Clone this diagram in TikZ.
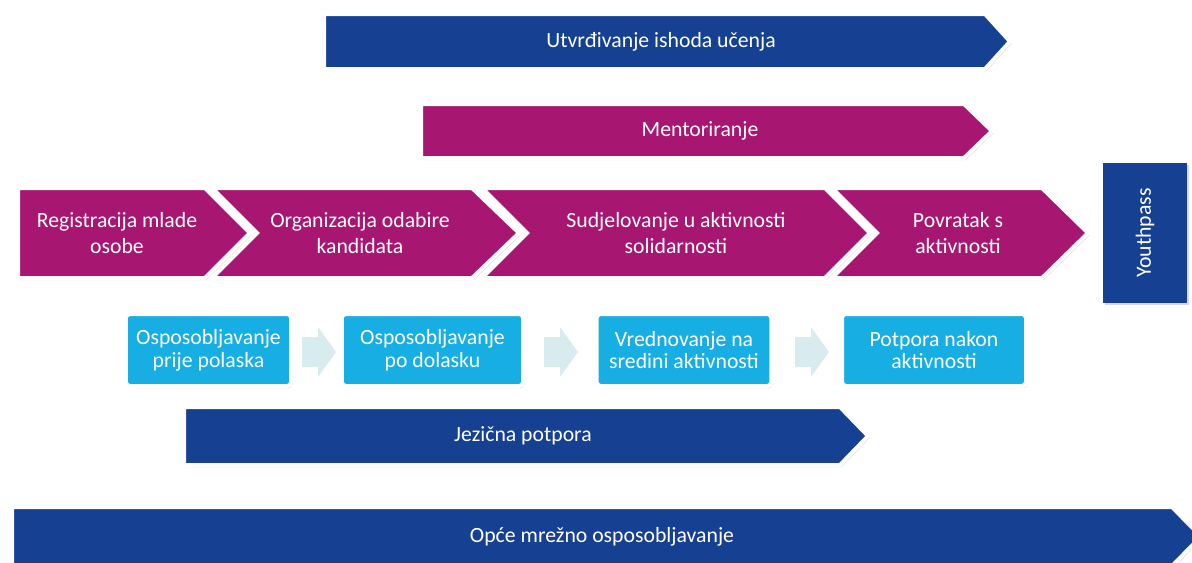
\documentclass[tikz,border=0pt]{standalone}
\usepackage{fontspec}
\setmainfont{Carlito}
\usepackage{tikz}
\usetikzlibrary{shadows, positioning}
\definecolor{barblue}{RGB}{22,64,145}
\definecolor{barpink}{RGB}{167,23,113}
\definecolor{boxcyan}{RGB}{23,174,228}
\definecolor{arrowpale}{RGB}{216,236,240}
\tikzset{
	bar/.style={
		draw=white, 
		line width=3pt, 
		line join=miter, 
		drop shadow={opacity=0.3, shadow xshift=1.2pt, shadow yshift=-1.5pt}
	},
	bluebar/.style={bar, fill=barblue},
	pinkbar/.style={bar, fill=barpink},
	bartext/.style={
		text=white, 
		align=center, 
		font=\fontsize{16.3}{19}\selectfont
	},
	stepbox/.style={
		rectangle, 
		rounded corners=3pt, 
		minimum height=54pt, 
		draw=white, 
		line width=3pt, 
		fill=boxcyan, 
		text=white, 
		align=center, 
		font=\fontsize{16.3}{17}\selectfont,
		drop shadow={opacity=0.3, shadow xshift=1.2pt, shadow yshift=-1.5pt}
	},
	flowarrow/.style={fill=arrowpale, draw=none}
}

\begin{document}
\begin{tikzpicture}[x=0.75pt, y=-0.75pt]
	\useasboundingbox (0,0) rectangle (1192,562);
	\clip (0,0) rectangle (1192,562);
	
	% Bars on top
	\draw [bluebar] (324,14) -- (985,14) -- (1010,41.5) -- (985,69) -- (324,69) -- cycle;
	\node (ishodi) [bartext] at (661,41.5) {Utvrđivanje ishoda učenja};
	\draw [pinkbar] (421,104) -- (964,104) -- (992,131) -- (964,158) -- (421,158) -- cycle;
	\node (mentoriranje) [bartext] at (700,131) {Mentoriranje};
	
	% Main chevrons
	\draw [pinkbar] (18,188) -- (205,188) -- (250,233) -- (205,278) -- (18,278) -- cycle;
	\draw [pinkbar] (212,188) -- (472,188) -- (519,233) -- (472,278) -- (212,278) -- (257,233) -- cycle;
	\draw [pinkbar] (482,188) -- (825,188) -- (870,233) -- (825,278) -- (482,278) -- (527,233) -- cycle;
	\draw [pinkbar] (832,188) -- (1042,188) -- (1088,233) -- (1042,278) -- (832,278) -- (877,233) -- cycle;
	\node (registracija) [bartext] at (117,233) {Registracija mlade\\osobe};
	\node (odabir) [bartext] at (360,233) {Organizacija odabire\\kandidata};
	\node (sudjelovanje) [bartext] at (676,233) {Sudjelovanje u aktivnosti\\solidarnosti};
	\node (povratak) [bartext] at (958,233) {Povratak s\\aktivnosti};
	
	\node (youthpass) [bartext, rectangle, fill=barblue, rotate=90, minimum width=105pt, minimum height=63pt,
		drop shadow={opacity=0.3, shadow xshift=1.2pt, shadow yshift=-1.5pt}] at (1145,233) {Youthpass};
	
	% Support steps
	\node (prije) [stepbox, minimum width=124pt] at (208.5,350) {Osposobljavanje\\prije polaska};
	\node (dolazak) [stepbox, minimum width=136pt] at (432.5,350) {Osposobljavanje\\po dolasku};
	\node (sredina) [stepbox, minimum width=131pt] at (684,350) {Vrednovanje na\\sredini aktivnosti};
	\node (nakon) [stepbox, minimum width=138pt] at (934,350) {Potpora nakon\\aktivnosti};
	\foreach \ax in {318, 560, 811}
		\draw [flowarrow, shift={(\ax,352)}] (-16,-15) -- (0,-15) -- (0,-25) -- (18,0) -- (0,25) -- (0,15) -- (-16,15) -- cycle;
	
	% Bottom bars
	\draw [bluebar] (184,407) -- (840,407) -- (868,436) -- (840,465) -- (184,465) -- cycle;
	\node (jezik) [bartext] at (523,436) {Jezična potpora};
	\draw [bluebar] (12,507) -- (1172,507) -- (1201,536.5) -- (1172,566) -- (12,566) -- cycle;
	\node (mreza) [bartext] at (602,536.5) {Opće mrežno osposobljavanje};
\end{tikzpicture}
\end{document}
